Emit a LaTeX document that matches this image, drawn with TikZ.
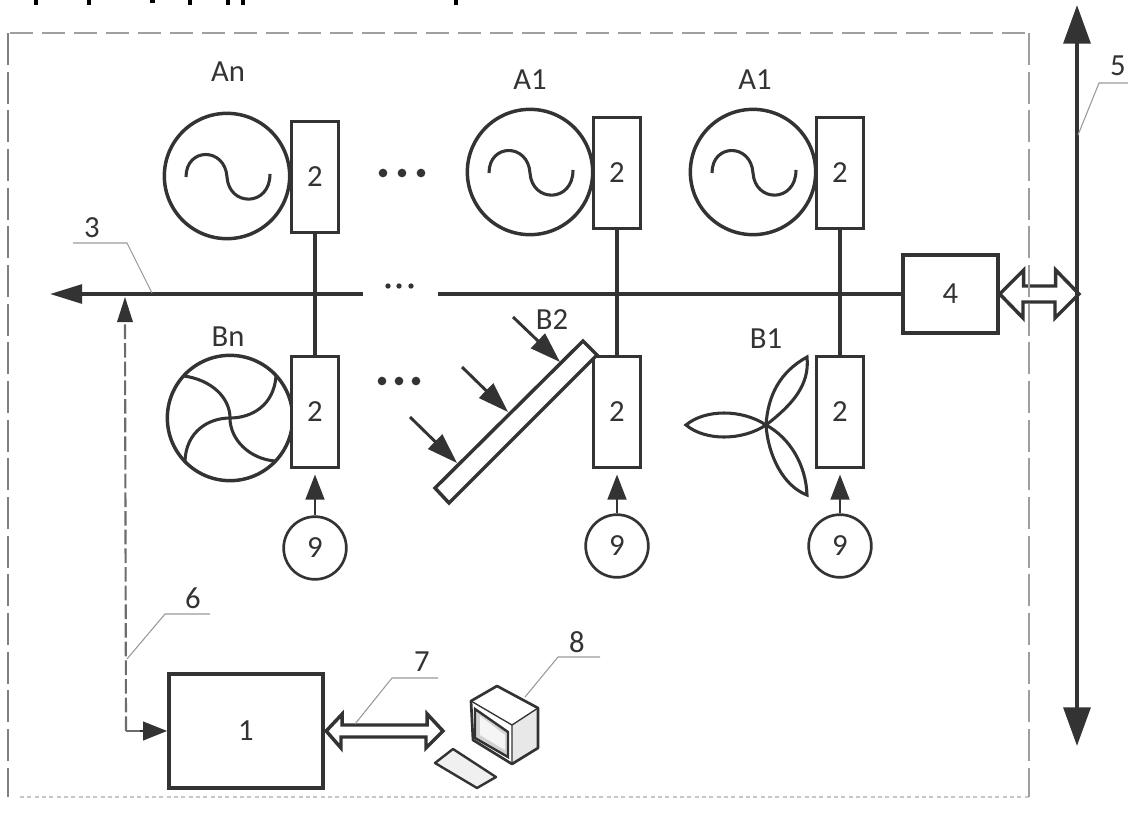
\documentclass[tikz,border=0pt]{standalone}
\usepackage{fontspec}
\setmainfont{Carlito}
\usetikzlibrary{arrows.meta}
\definecolor{ink}{gray}{0.2}
\definecolor{framegray}{gray}{0.62}
\tikzset{
 wire/.style={draw=ink,line width=2.8pt},
 thin wire/.style={draw=ink,line width=2.3pt},
 leader/.style={draw=gray!80,line width=0.8pt},
 hollow/.style={draw=ink,line width=2.6pt,line join=miter},
 lbl/.style={font=\fontsize{23}{24}\selectfont,text=ink,inner sep=0pt},
 gen/.style={circle,draw=ink,line width=2.6pt,minimum size=94pt,inner sep=0pt},
 conv/.style={rectangle,draw=ink,line width=2.6pt,fill=white,minimum width=35pt,minimum height=83pt,inner sep=0pt,font=\fontsize{23}{24}\selectfont,text=ink},
 srcnode/.style={circle,draw=ink,line width=2pt,fill=white,minimum size=47pt,inner sep=0pt,font=\fontsize{23}{24}\selectfont,text=ink},
 boxnode/.style={rectangle,draw=ink,line width=2.8pt,fill=white,inner sep=0pt,font=\fontsize{23}{24}\selectfont,text=ink},
 dot/.style={circle,fill=ink,inner sep=0pt},
 upflow/.style={-{Triangle[length=19pt,width=14pt]},draw=ink,line width=2.2pt},
 inflow/.style={-{Triangle[length=23pt,width=15pt]},draw=ink,line width=2.2pt},
}
\begin{document}
\begin{tikzpicture}[x=0.75pt,y=-0.75pt]
\useasboundingbox (0,0) rectangle (1128,825);
\clip (0,0) rectangle (1128,825);

% cropped line of text along the top edge
\foreach \x in {36,89,190,228,243,456} \fill[black] (\x-2,0) rectangle (\x+2,5);
\fill[black] (150,0) rectangle (155,3);

% frame: top, left, bottom (right side comes after the hollow arrow)
\draw[draw=framegray,line width=1.9pt,dash pattern=on 17pt off 7pt] (1025,33) -- (8,33);
\draw[draw=gray,line width=2pt,dash pattern=on 24pt off 5pt] (8,33) -- (8,797);
\draw[draw=gray!45,line width=1.6pt,dash pattern=on 3pt off 2.5pt] (20,797) -- (1029,797);

% generators
\node[gen] (an) at (227,176) {};
\node[gen] (a1m) at (530,172) {};
\node[gen] (a1r) at (753,172) {};
\node[gen] (bn) at (230,418) {};

% sine waves
\foreach \c in {an,a1m,a1r}{
 \begin{scope}[shift={(\c.center)}]
 \draw[thin wire] (-41,1) .. controls (-41,-29) and (-2,-29) .. (0,1) .. controls (2,31) and (43,31) .. (43,-2);
 \end{scope}
}
% fan
\draw[thin wire] (bn.center) .. controls (230,398) and (212,380) .. (184,376);
\draw[thin wire] (bn.center) .. controls (252,418) and (274,405) .. (276,376);
\draw[thin wire] (bn.center) .. controls (230,440) and (250,459) .. (275,461);
\draw[thin wire] (bn.center) .. controls (208,418) and (186,432) .. (185,461);

% converters
\node[conv] (c1) at (315,177) {2};
\node[conv] (c2) at (617,173) {2};
\node[conv] (c3) at (840,173) {2};
\node[conv] (c4) at (315,412) {2};
\node[conv] (c5) at (617,412) {2};
\node[conv] (c6) at (840,412) {2};

% box 4, box 1
\node[boxnode,minimum width=71pt,minimum height=58pt] (b4) at (950.5,294) {4};
\node[boxnode,minimum width=115.5pt,minimum height=86pt] (b1) at (246,731) {1};

% bus 3
\coordinate (bus) at (50,294);
\coordinate (gapl) at (363,294);
\coordinate (gapr) at (438,294);
\draw[wire,-{Triangle[length=24pt,width=14pt]}] (gapl) -- (bus);
\draw[wire] (gapr) -- (b4.west);
\draw[thin wire] (c1) -- (c4);
\draw[thin wire] (c2) -- (c5);
\draw[thin wire] (c3) -- (c6);
\foreach \a in {c1,c2,c3,c4,c5,c6} \node[conv] at (\a) {2};

% dots
\foreach \x in {383,402,421} \node[dot,minimum size=6.5pt] at (\x,173) {};
\foreach \x in {382,399,416} \node[dot,minimum size=6.5pt] at (\x,381) {};
\foreach \x in {388,399,411} \node[dot,minimum size=4pt] at (\x,286) {};

% hollow arrows
\coordinate (h4a) at (b4.east);
\coordinate (h4b) at (1079,294);
\draw[hollow] (h4a) -- ++(24,-24) -- ++(0,16) -- ++(32,0) -- ++(0,-16) -- (h4b) -- ++(-24,24) -- ++(0,-16) -- ++(-32,0) -- ++(0,16) -- cycle;
\coordinate (h7a) at (b1.east);
\coordinate (h7b) at (443,731);
\draw[hollow,fill=white] ([xshift=1pt]h7a) -- ++(16,-17) -- ++(0,11) -- ++(85,0) -- ++(0,-11) -- (h7b) -- ++(-17,17) -- ++(0,-11) -- ++(-85,0) -- ++(0,11) -- cycle;

% frame right side
\draw[draw=framegray,line width=1.9pt,dash pattern=on 24pt off 5pt] (1029,33) -- (1029,797);

% bus 5
\coordinate (busT) at (1077,5);
\coordinate (busB) at (1077,746);
\draw[draw=ink,line width=3.2pt,{Triangle[length=29pt,width=20pt]}-{Triangle[length=29pt,width=20pt]}] (busT) -- (busB);

% sources 9
\node[srcnode] (s1) at (315,548) {9};
\node[srcnode] (s2) at (617,546) {9};
\node[srcnode] (s3) at (840,546) {9};
\draw[upflow,shorten >=4pt] (s1) -- (c4);
\draw[upflow,shorten >=4pt] (s2) -- (c5);
\draw[upflow,shorten >=4pt] (s3) -- (c6);

% signal line 6
\coordinate (sigT) at (125,297);
\coordinate (sigC) at (126,731);
\draw[draw=gray!85!black,line width=1.6pt,dash pattern=on 11pt off 3pt] (sigC) -- (125,322);
\draw[draw=gray!85!black,line width=1.1pt] (sigC) -- (145,731);
\fill[ink] (125,297) -- (133,322) -- (117,322) -- cycle;
\draw[-{Triangle[length=18pt,width=14pt]},draw=ink,line width=1.4pt] (140,731) -- (b1.west);

% solar panel
\coordinate (p1) at (583,341); \coordinate (p2) at (597,355);
\coordinate (p3) at (449,503); \coordinate (p4) at (435,488);
\draw[draw=ink,line width=2.6pt,fill=white] (p1) -- (p2) -- (p3) -- (p4) -- cycle;
\coordinate (r1s) at (513,317); \coordinate (r1e) at (560,362);
\coordinate (r2s) at (462,367); \coordinate (r2e) at (508,412);
\coordinate (r3s) at (410,417); \coordinate (r3e) at (457,463);
\draw[inflow] (r1s) -- (r1e);
\draw[inflow] (r2s) -- (r2e);
\draw[inflow] (r3s) -- (r3e);

% turbine
\coordinate (hub) at (766,425);
\coordinate (t1) at (686,425); \coordinate (t2) at (807,357); \coordinate (t3) at (807,495);
\draw[thin wire,line join=miter] (hub) .. controls (742,409) and (705,409) .. (t1) .. controls (705,441) and (742,441) .. (hub);
\draw[thin wire,line join=miter] (hub) .. controls (768,395) and (780,372) .. (t2) .. controls (810,385) and (792,405) .. (hub);
\draw[thin wire,line join=miter] (hub) .. controls (790,438) and (806,465) .. (t3) .. controls (783,486) and (768,455) .. (hub);

% computer
\coordinate (m1) at (497,686); \coordinate (m2) at (471,701); \coordinate (m3) at (473,740);
\coordinate (m4) at (512,764); \coordinate (m5) at (538,748); \coordinate (m6) at (538,708);
\coordinate (m7) at (512,725);
\fill[gray!18] (m7) -- (m6) -- (m5) -- (m4) -- cycle;
\draw[draw=ink,line width=2pt,line join=round] (m1) -- (m2) -- (m3) -- (m4) -- (m5) -- (m6) -- cycle;
\draw[draw=ink,line width=1pt] (m2) -- (m7) -- (m6) (m7) -- (m4);
\draw[draw=ink,line width=1.8pt,fill=gray!35] (475,709) -- (508,732) -- (508,757) -- (475,738) -- cycle;
\fill[gray!8] (480,716) -- (505,735) -- (505,750) -- (480,735) -- cycle;
\draw[draw=ink,line width=1.8pt,line join=round,fill=gray!12] (453,749) -- (435,763) -- (477,788) -- (496,777) -- cycle;

% leaders
\coordinate (l3a) at (73,243); \coordinate (l3b) at (127,243); \coordinate (l3c) at (152,293);
\draw[leader] (l3a) -- (l3b) -- (l3c);
\coordinate (l5a) at (1128,83); \coordinate (l5b) at (1099,83); \coordinate (l5c) at (1078,135);
\draw[leader] (l5a) -- (l5b) -- (l5c);
\coordinate (l6a) at (210,614); \coordinate (l6b) at (165,614); \coordinate (l6c) at (127,659);
\draw[leader] (l6a) -- (l6b) -- (l6c);
\coordinate (l7a) at (438,678); \coordinate (l7b) at (392,678); \coordinate (l7c) at (355,724);
\draw[leader] (l7a) -- (l7b) -- (l7c);
\coordinate (l8a) at (600,657); \coordinate (l8b) at (558,657); \coordinate (l8c) at (525,697);
\draw[leader] (l8a) -- (l8b) -- (l8c);

% labels
\node[lbl] (tAn) at (228,72) {An};
\node[lbl] (tA1m) at (530,80) {A1};
\node[lbl] (tA1r) at (755,80) {A1};
\node[lbl] (tBn) at (228,337) {Bn};
\node[lbl] (tB2) at (552,320) {B2};
\node[lbl] (tB1) at (766,339) {B1};
\node[lbl] (t3) at (92,228) {3};
\node[lbl] (t5) at (1118,66) {5};
\node[lbl] (t6) at (193,598) {6};
\node[lbl] (t7) at (422,662) {7};
\node[lbl] (t8) at (577,642) {8};
\end{tikzpicture}
\end{document}
